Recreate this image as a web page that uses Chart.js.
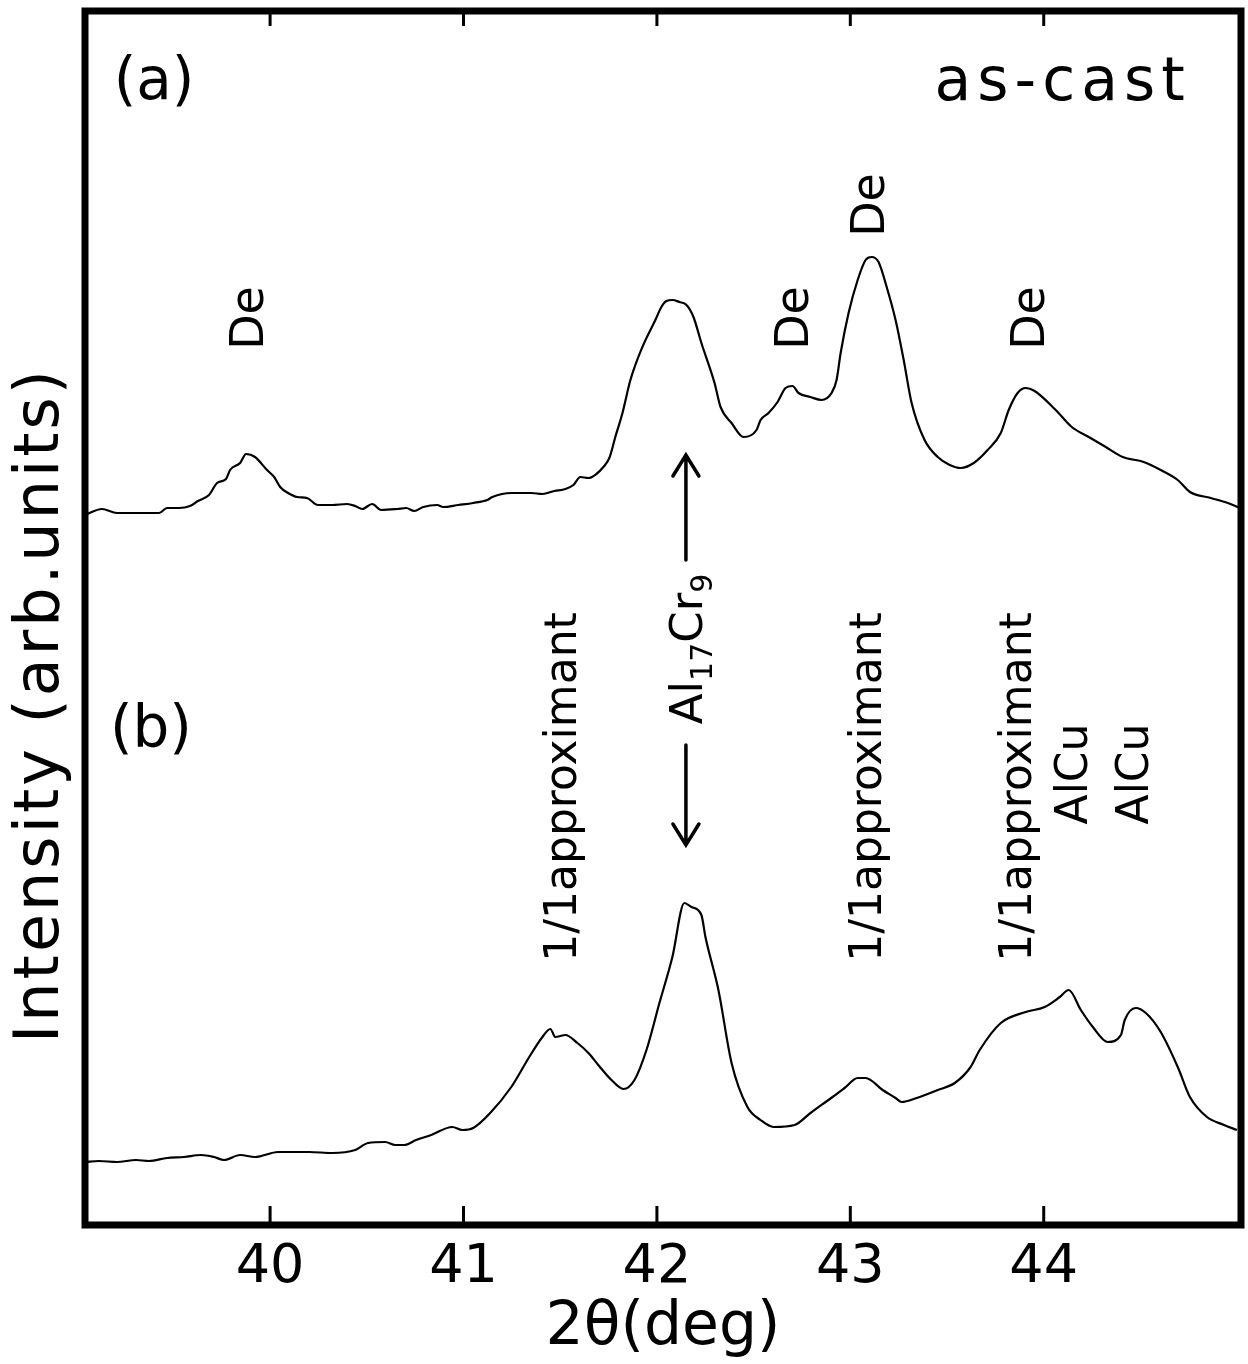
<!DOCTYPE html>
<html><head><meta charset="utf-8">
<script src="https://cdn.jsdelivr.net/npm/chart.js@4.4.1/dist/chart.umd.min.js"></script>
<style>html,body{margin:0;padding:0;background:#fff;}canvas{display:block;}</style>
</head><body>
<canvas id="c" width="1248" height="1364"></canvas>
<script>
// ---- data (2θ in degrees, intensity in arbitrary units) ----
const xTickValues = [40, 41, 42, 43, 44];

const twoThetaA = [39.043,39.131,39.208,39.327,39.426,39.467,39.529,39.586,39.627,39.684,39.726,39.772,39.793,39.845,39.876,39.922,39.984,40.021,40.052,40.093,40.140,40.191,40.248,40.321,40.398,40.440,40.476,40.528,40.574,40.657,40.704,40.745,40.792,40.864,40.895,40.973,41.050,41.123,41.149,41.247,41.351,41.408,41.470,41.527,41.568,41.604,41.646,41.687,41.723,41.754,41.785,41.822,41.863,41.925,41.992,42.023,42.049,42.080,42.116,42.153,42.189,42.230,42.298,42.329,42.386,42.448,42.515,42.536,42.577,42.624,42.665,42.701,42.732,42.794,42.851,42.903,42.929,42.950,42.991,43.038,43.079,43.110,43.146,43.188,43.234,43.276,43.317,43.384,43.452,43.514,43.571,43.638,43.710,43.778,43.819,43.865,43.907,43.953,44.062,44.145,44.233,44.321,44.409,44.517,44.605,44.693,44.756,44.864,44.952,45.014];
const intensityA = [710,716,712,712,712,717,717,719,724,730,742,746,755,762,771,768,755,748,738,732,728,727,720,720,721,719,716,721,715,716,717,714,718,720,718,720,722,725,728,732,732,731,734,736,740,748,747,751,758,767,788,812,845,878,905,918,924,925,923,920,908,882,842,818,802,788,795,805,812,823,837,839,832,828,825,832,845,872,912,945,965,968,963,938,905,865,822,785,768,760,757,762,775,792,815,832,837,834,815,798,788,778,768,763,755,745,733,727,722,717];

const twoThetaB = [39.043,39.115,39.208,39.307,39.374,39.467,39.555,39.643,39.710,39.762,39.845,39.922,40.041,40.202,40.321,40.440,40.507,40.595,40.647,40.693,40.755,40.833,40.942,40.994,41.050,41.138,41.247,41.340,41.408,41.449,41.475,41.527,41.589,41.646,41.697,41.765,41.827,41.884,41.946,42.013,42.080,42.142,42.179,42.230,42.251,42.318,42.386,42.468,42.536,42.603,42.712,42.794,42.908,42.970,43.038,43.079,43.167,43.234,43.265,43.343,43.452,43.540,43.622,43.669,43.778,43.907,44.005,44.083,44.129,44.192,44.254,44.331,44.399,44.419,44.476,44.528,44.605,44.693,44.756,44.844,44.932,44.999];
const intensityB = [63,64,63,65,64,67,68,70,68,65,70,68,73,73,72,75,82,83,80,80,85,90,98,95,97,112,138,168,188,196,188,190,182,172,160,145,136,145,175,222,268,322,318,310,288,235,162,118,105,98,100,112,128,137,147,147,135,127,123,127,135,142,158,175,202,213,218,228,235,215,198,183,190,205,217,212,193,158,128,108,100,95];

const xTitle = '2θ(deg)';
const yTitle = 'Intensity (arb.units)';

// ---- annotation texts (positions in data coordinates) ----
const notes = [
  {t:'(a)', x:39.40, y:1126, rot:false, size:58},
  {t:'(b)', x:39.384, y:478, rot:false, size:58},
  {t:'as-cast', x:44.098, y:1125, rot:false, size:60, ls:6},
  {t:'De', x:39.90, y:907, rot:true, size:46},
  {t:'De', x:42.72, y:907, rot:true, size:46},
  {t:'De', x:43.11, y:1020, rot:true, size:46},
  {t:'De', x:43.938, y:907, rot:true, size:46},
  {t:'1/1approximant', x:41.52, y:438, rot:true, size:44},
  {t:'1/1approximant', x:43.10, y:438, rot:true, size:44},
  {t:'1/1approximant', x:43.876, y:438, rot:true, size:44},
  {t:'AlCu', x:44.166, y:451, rot:true, size:44},
  {t:'AlCu', x:44.48, y:451, rot:true, size:44}
];
const phaseLabel = {x:42.15, y:576};
const arrows = [ {x:42.15, from:665, to:770}, {x:42.15, from:480, to:380} ];

const FONT = '"DejaVu Sans", sans-serif';

const decor = {
  id: 'decor',
  afterDatasetsDraw(chart) {
    const ctx = chart.ctx, a = chart.chartArea;
    const xs = chart.scales.x, ys = chart.scales.y;
    ctx.save();
    ctx.fillStyle = '#000'; ctx.strokeStyle = '#000';
    // frame
    ctx.lineWidth = 7;
    ctx.strokeRect(a.left, a.top, a.right - a.left, a.bottom - a.top);
    // inward ticks top and bottom
    ctx.lineWidth = 3;
    xTickValues.forEach(v => {
      const px = xs.getPixelForValue(v);
      ctx.beginPath();
      ctx.moveTo(px, a.bottom); ctx.lineTo(px, a.bottom - 19);
      ctx.moveTo(px, a.top); ctx.lineTo(px, a.top + 15);
      ctx.stroke();
    });
    // y title
    ctx.save();
    ctx.translate(a.left - 43, ys.getPixelForValue(520));
    ctx.rotate(-Math.PI / 2);
    ctx.font = '62px ' + FONT;
    ctx.letterSpacing = '3px';
    ctx.textAlign = 'center'; ctx.textBaseline = 'middle';
    ctx.fillText(yTitle, 0, 0);
    ctx.restore();
    // annotations
    notes.forEach(n => {
      ctx.save();
      ctx.translate(xs.getPixelForValue(n.x), ys.getPixelForValue(n.y));
      ctx.font = n.size + 'px ' + FONT;
      ctx.letterSpacing = (n.ls || 0) + 'px';
      ctx.textAlign = 'center';
      if (n.rot) { ctx.rotate(-Math.PI / 2); ctx.textBaseline = 'middle'; }
      else { ctx.textBaseline = 'alphabetic'; }
      ctx.fillText(n.t, 0, 0);
      ctx.restore();
    });
    // Al17Cr9 with subscripts
    ctx.save();
    ctx.translate(xs.getPixelForValue(phaseLabel.x), ys.getPixelForValue(phaseLabel.y));
    ctx.rotate(-Math.PI / 2);
    const parts = [['Al',45,0],['17',30,10],['Cr',45,0],['9',30,10]];
    let total = 0;
    parts.forEach(p => { ctx.font = p[1] + 'px ' + FONT; total += ctx.measureText(p[0]).width; });
    let cx = -total / 2;
    ctx.textAlign = 'left'; ctx.textBaseline = 'alphabetic';
    parts.forEach(p => {
      ctx.font = p[1] + 'px ' + FONT;
      ctx.fillText(p[0], cx, 16 + p[2]);
      cx += ctx.measureText(p[0]).width;
    });
    ctx.restore();
    // arrows
    ctx.lineWidth = 3.5; ctx.lineCap = 'round';
    arrows.forEach(ar => {
      const px = xs.getPixelForValue(ar.x);
      const y0 = ys.getPixelForValue(ar.from), y1 = ys.getPixelForValue(ar.to);
      const dir = Math.sign(y1 - y0);
      ctx.beginPath();
      ctx.moveTo(px, y0); ctx.lineTo(px, y1);
      ctx.moveTo(px - 13, y1 - dir * 21); ctx.lineTo(px, y1); ctx.lineTo(px + 13, y1 - dir * 21);
      ctx.stroke();
    });
    ctx.restore();
  }
};

new Chart(document.getElementById('c'), {
  type: 'scatter',
  data: {
    datasets: [
      { label: 'as-cast (a)', data: twoThetaA.map((x, i) => ({x, y: intensityA[i]})),
        showLine: true, borderColor: '#000', borderWidth: 2.2, pointRadius: 0, cubicInterpolationMode: 'monotone' },
      { label: '(b)', data: twoThetaB.map((x, i) => ({x, y: intensityB[i]})),
        showLine: true, borderColor: '#000', borderWidth: 2.2, pointRadius: 0, cubicInterpolationMode: 'monotone' }
    ]
  },
  options: {
    responsive: false, animation: false, devicePixelRatio: 1,
    layout: { padding: { left: 85, right: 7, top: 11, bottom: 0 } },
    plugins: { legend: { display: false }, tooltip: { enabled: false } },
    scales: {
      x: {
        type: 'linear', min: 39.043, max: 45.02,
        afterBuildTicks: s => { s.ticks = xTickValues.map(v => ({value: v})); },
        afterFit: s => { s.height = 139; },
        grid: { display: false, drawTicks: false },
        border: { display: false },
        ticks: { color: '#000', padding: 11, font: { family: FONT, size: 54 }, callback: v => String(v) },
        title: { display: true, text: xTitle, color: '#000', padding: 0, font: { family: FONT, size: 60 } }
      },
      y: { type: 'linear', min: 0, max: 1214, display: false }
    }
  },
  plugins: [decor]
});
</script>
</body></html>
